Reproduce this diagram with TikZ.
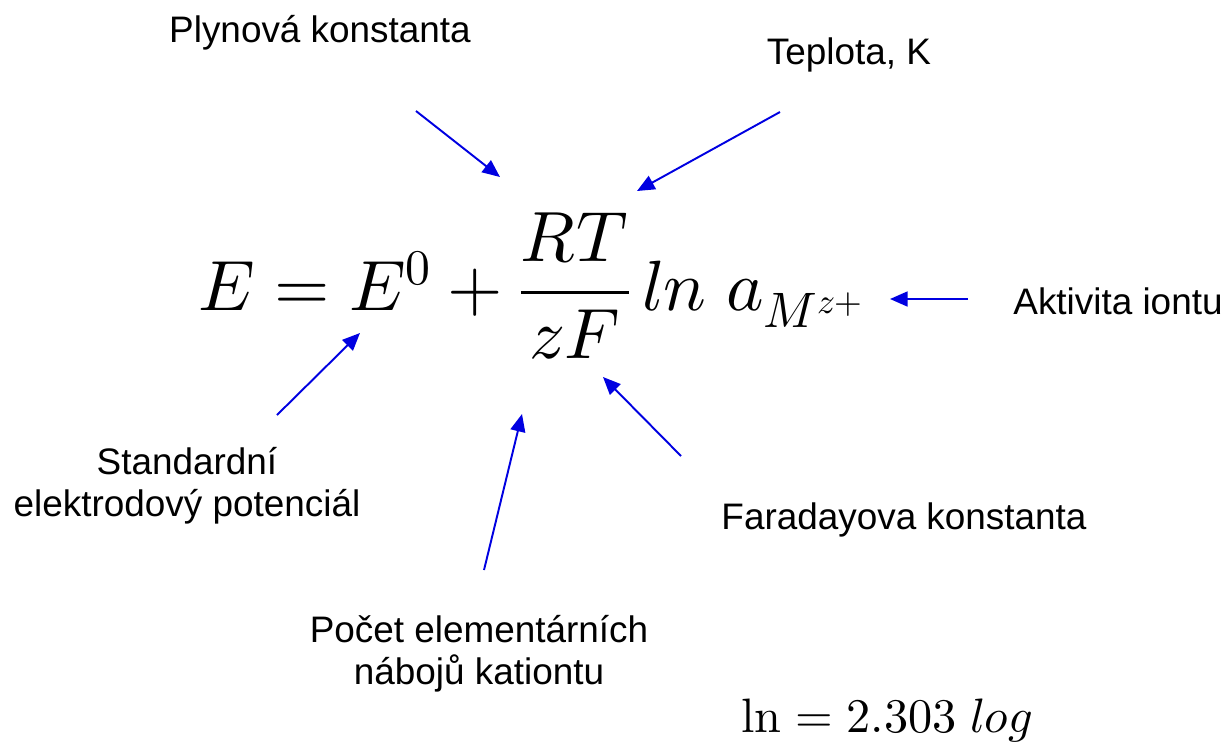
\documentclass[tikz,border=0pt]{standalone}
\usepackage{fontspec}
\usepackage{unicode-math}
\setmainfont{Liberation Sans}
\setmathfont{Latin Modern Math}
\usetikzlibrary{arrows.meta}
\definecolor{arrowblue}{RGB}{0,0,225}

\begin{document}
\begin{tikzpicture}[
  x=0.02cm,y=-0.02cm,>=Triangle,
  pointer/.style={-{Triangle[length=10pt,width=8.5pt]},draw=arrowblue,line width=1.1pt},
  label/.style={font=\fontsize{21}{24}\selectfont,align=center,inner sep=0pt},
  formula/.style={font=\fontsize{40.5}{48}\selectfont,inner sep=0pt}
]
\useasboundingbox (0,0) rectangle (1227,745);
% ---------- equation
\node[formula,anchor=base west] (eq) at (198,310)
  {$E=E^0+\dfrac{RT}{zF}\,ln\;a_{M^{z+}}$};
\node[font=\fontsize{27.5}{32}\selectfont,inner sep=0pt,anchor=base] (conv) at (887,732)
  {$\symup{ln}=2.303\;log$};
% ---------- labels
\node[label,anchor=base] (gas)  at (320,42)  {Plynová konstanta};
\node[label,anchor=base] (temp) at (849,64)  {Teplota, K};
\node[label,anchor=base] (act)  at (1118,314) {Aktivita iontu};
\node[label] (std)  at (187,486) {Standardní\\elektrodový potenciál};
\node[label,anchor=base] (far)  at (904,529) {Faradayova konstanta};
\node[label] (cnt)  at (479,654) {Počet elementárních\\nábojů kationtu};
% ---------- arrow ends
\coordinate (gas-s)  at (416,111);  \coordinate (gas-t)  at (500,177);
\coordinate (temp-s) at (780,112);  \coordinate (temp-t) at (637,191);
\coordinate (act-s)  at (968,299);  \coordinate (act-t)  at (890,299);
\coordinate (std-s)  at (277,415);  \coordinate (std-t)  at (360,333);
\coordinate (cnt-s)  at (484,570);  \coordinate (cnt-t)  at (522,414);
\coordinate (far-s)  at (681,456);  \coordinate (far-t)  at (603,377);
% ---------- arrows
\draw[pointer] (gas-s) -- (gas-t);
\draw[pointer] (temp-s) -- (temp-t);
\draw[pointer] (act-s) -- (act-t);
\draw[pointer] (std-s) -- (std-t);
\draw[pointer] (cnt-s) -- (cnt-t);
\draw[pointer] (far-s) -- (far-t);
\end{tikzpicture}
\end{document}
